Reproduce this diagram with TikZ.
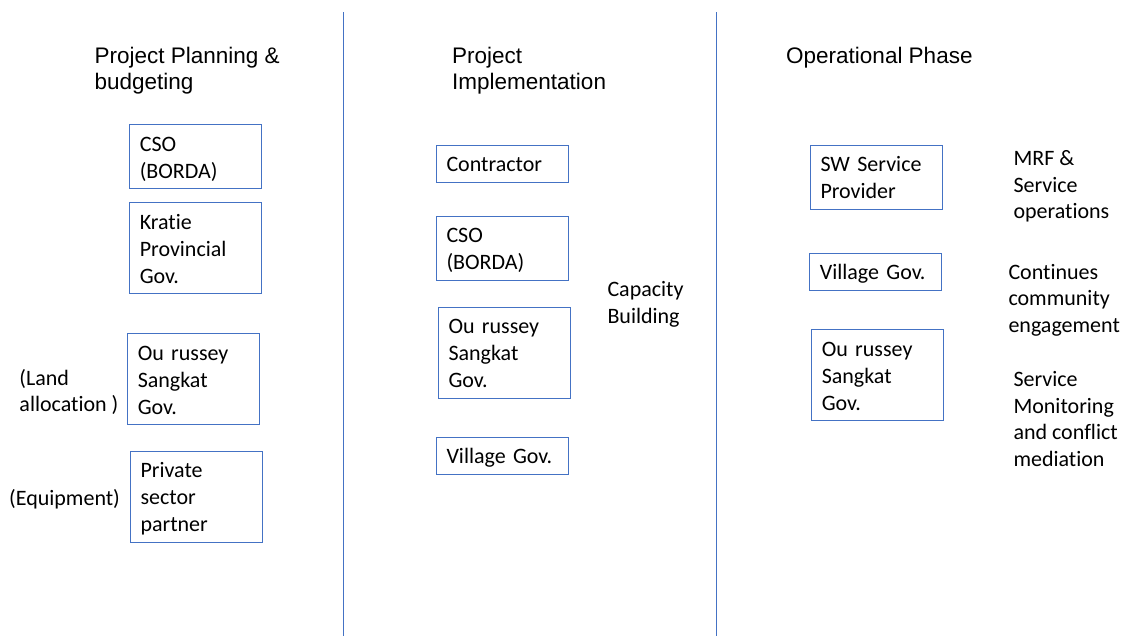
\documentclass[tikz,border=0pt]{standalone}
\usepackage{fontspec}
\setmainfont{Carlito}[Ligatures=NoCommon]
\newfontfamily\headfont{Liberation Sans}
\definecolor{ranhgioi}{HTML}{4472C4}

\begin{document}
\begin{tikzpicture}[x=1pt,y=-1pt,
		hop/.style={draw=ranhgioi,line width=1pt,anchor=north west,inner xsep=10pt,inner ysep=5pt,
			text width=112pt,align=left,font=\fontsize{22}{27}\selectfont,
			execute at begin node={\rule{0pt}{21.4pt}},execute at end node={\rule[-5.6pt]{0pt}{5.6pt}}},
		ghichu/.style={anchor=base west,inner sep=0pt,align=left,font=\fontsize{22}{26.6}\selectfont},
		tieude/.style={anchor=base west,inner sep=0pt,align=left,font=\headfont\fontsize{22.5}{26.5}\selectfont}]
			\useasboundingbox (0,0) rectangle (1128,636);
			\draw [ranhgioi,line width=1pt] (343,12.5) -- (343,636);
			\draw [ranhgioi,line width=1pt] (716,12.5) -- (716,636);
			
			% phase titles (base = last line)
			\node[tieude] (plan) at (94.3,90) {Project Planning \&\\budgeting};
			\node[tieude] (impl) at (452,90) {Project\\Implementation};
			\node[tieude] (oper) at (786,64) {Operational Phase};
			
			% planning & budgeting
			\node[hop] (cso1) at (129.3,124.3) {CSO\\(BORDA)};
			\node[hop] (kratie) at (129.3,202.3) {Kratie\\Provincial\\Gov.};
			\node[hop] (sangkat1) at (127.3,333.3) {Ou russey\\Sangkat\\Gov.};
			\node[hop] (private) at (130,451) {Private\\sector\\partner};
			\node[ghichu] (land) at (19.3,411.7) {(Land\\allocation )};
			\node[ghichu] (equip) at (9,505) {(Equipment)};
			
			% implementation
			\node[hop] (contractor) at (436,145) {Contractor};
			\node[hop] (cso2) at (436,216) {CSO\\(BORDA)};
			\node[hop] (sangkat2) at (438,306.7) {Ou russey\\Sangkat\\Gov.};
			\node[hop] (village2) at (436,436.7) {Village Gov.};
			\node[ghichu] (capacity) at (607.3,323.6) {Capacity\\Building};
			
			% operation
			\node[hop] (provider) at (810,145) {SW Service\\Provider};
			\node[hop] (village3) at (809.3,252.7) {Village Gov.};
			\node[hop] (sangkat3) at (811.3,329.3) {Ou russey\\Sangkat\\Gov.};
			\node[ghichu] (mrf) at (1013.3,218.7) {MRF \&\\Service\\operations};
			\node[ghichu] (engage) at (1008.3,332.5) {Continues\\community\\engagement};
			\node[ghichu] (monitor) at (1013.3,466.2) {Service\\Monitoring\\and conflict\\mediation};
		\end{tikzpicture}
\end{document}
